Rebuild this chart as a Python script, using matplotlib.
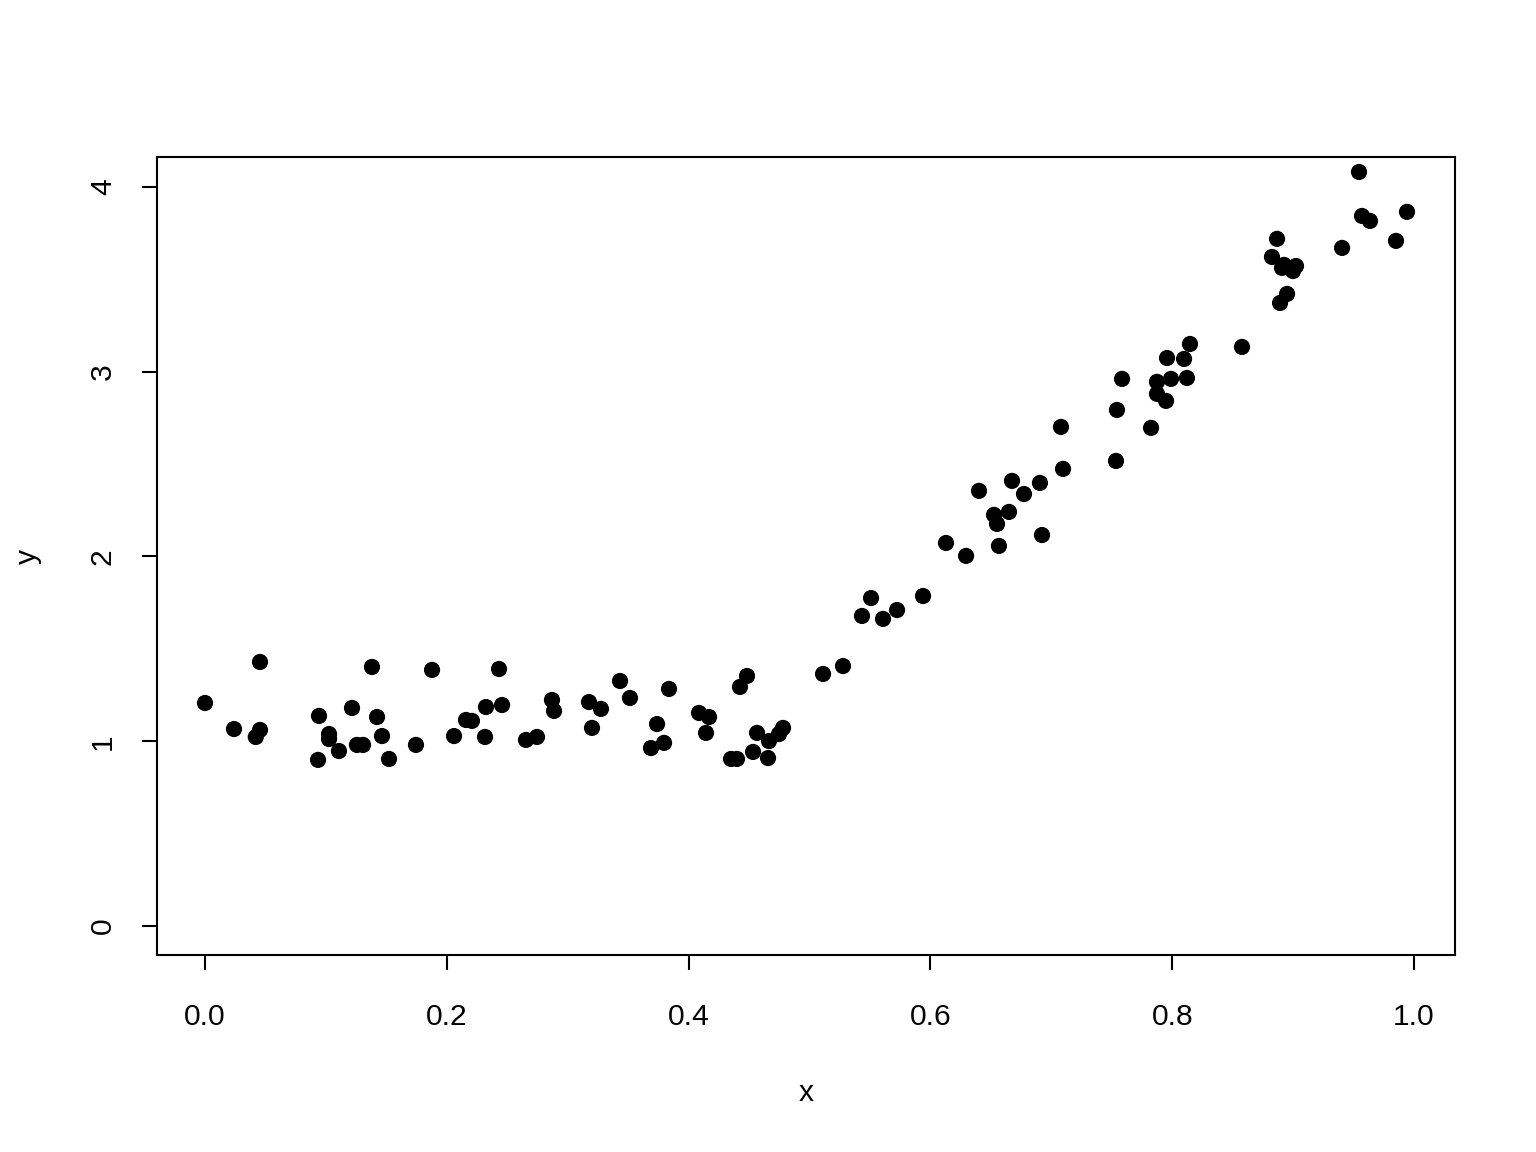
import matplotlib
matplotlib.use("Agg")
import matplotlib.pyplot as plt

x = [0.000, 0.024, 0.042, 0.0455, 0.0455, 0.0943, 0.0935, 0.1026, 0.1026, 0.1108,
     0.1216, 0.1257, 0.1307, 0.1381, 0.1423, 0.1464, 0.1522, 0.1745, 0.1878, 0.2060,
     0.2159, 0.2208, 0.2316, 0.2324, 0.2432, 0.2457, 0.2655, 0.2746, 0.2870, 0.2887,
     0.3176, 0.3201, 0.3275, 0.3433, 0.3515, 0.3689, 0.3739, 0.3797, 0.3838, 0.4086,
     0.4144, 0.4169, 0.4351, 0.4400, 0.4425, 0.4483, 0.4533, 0.4566, 0.4657, 0.4665,
     0.4748, 0.4781, 0.5112, 0.5277, 0.5434, 0.5509, 0.5608, 0.5724, 0.5939, 0.6129,
     0.6295, 0.6402, 0.6526, 0.6551, 0.6567, 0.6650, 0.6675, 0.6774, 0.6906, 0.6923,
     0.7080, 0.7097, 0.7535, 0.7543, 0.7585, 0.7825, 0.7874, 0.7874, 0.7949, 0.7957,
     0.7990, 0.8098, 0.8122, 0.8147, 0.8577, 0.8825, 0.8867, 0.8892, 0.8925, 0.8908,
     0.8950, 0.8999, 0.9024, 0.9405, 0.9545, 0.9570, 0.9636, 0.9851, 0.9942]
y = [1.207, 1.066, 1.023, 1.061, 1.429, 1.137, 0.899, 1.039, 1.012, 0.947,
     1.180, 0.980, 0.980, 1.402, 1.131, 1.028, 0.904, 0.980, 1.386, 1.028,
     1.115, 1.110, 1.023, 1.185, 1.391, 1.196, 1.007, 1.023, 1.223, 1.164,
     1.212, 1.072, 1.175, 1.326, 1.234, 0.963, 1.093, 0.991, 1.283, 1.153,
     1.045, 1.131, 0.904, 0.904, 1.294, 1.353, 0.942, 1.045, 0.909, 1.001,
     1.039, 1.072, 1.364, 1.407, 1.678, 1.775, 1.662, 1.710, 1.786, 2.073,
     2.003, 2.355, 2.225, 2.176, 2.057, 2.241, 2.409, 2.338, 2.398, 2.116,
     2.701, 2.474, 2.517, 2.793, 2.961, 2.696, 2.945, 2.880, 2.842, 3.074,
     2.961, 3.069, 2.966, 3.150, 3.134, 3.621, 3.719, 3.372, 3.578, 3.562,
     3.421, 3.545, 3.572, 3.670, 4.081, 3.843, 3.816, 3.708, 3.865]

xticks = [0.0, 0.2, 0.4, 0.6, 0.8, 1.0]
xticklabels = ["0.0", "0.2", "0.4", "0.6", "0.8", "1.0"]
yticks = [0, 1, 2, 3, 4]
yticklabels = ["0", "1", "2", "3", "4"]

plt.rcParams['font.family'] = ['Liberation Sans', 'DejaVu Sans']

fig = plt.figure(figsize=(7.68, 5.76), dpi=200)
ax = fig.add_axes([157/1536, 1 - 955/1152, (1455-157)/1536, (955-157)/1152])

ax.scatter(x, y, s=34, c='black', edgecolors='none', zorder=3)

ax.set_xlim(-0.0397, 1.0339)
ax.set_ylim(-0.157, 4.162)

for sp in ax.spines.values():
    sp.set_linewidth(0.75)
    sp.set_color('black')

ax.set_xticks(xticks)
ax.set_xticklabels(xticklabels)
ax.set_yticks(yticks)
ax.set_yticklabels(yticklabels, rotation=90, va='center')
ax.tick_params(axis='both', length=5.4, width=0.75, labelsize=10.8, color='black')
ax.tick_params(axis='x', pad=12)
ax.tick_params(axis='y', pad=9)

ax.set_xlabel('x', fontsize=10.8, va='center')
ax.xaxis.set_label_coords(0.5, -0.173)
ax.set_ylabel('y', fontsize=10.8, va='center')
ax.yaxis.set_label_coords(-0.0994, 0.5)

fig.savefig('out.png', dpi=200, facecolor='white')
